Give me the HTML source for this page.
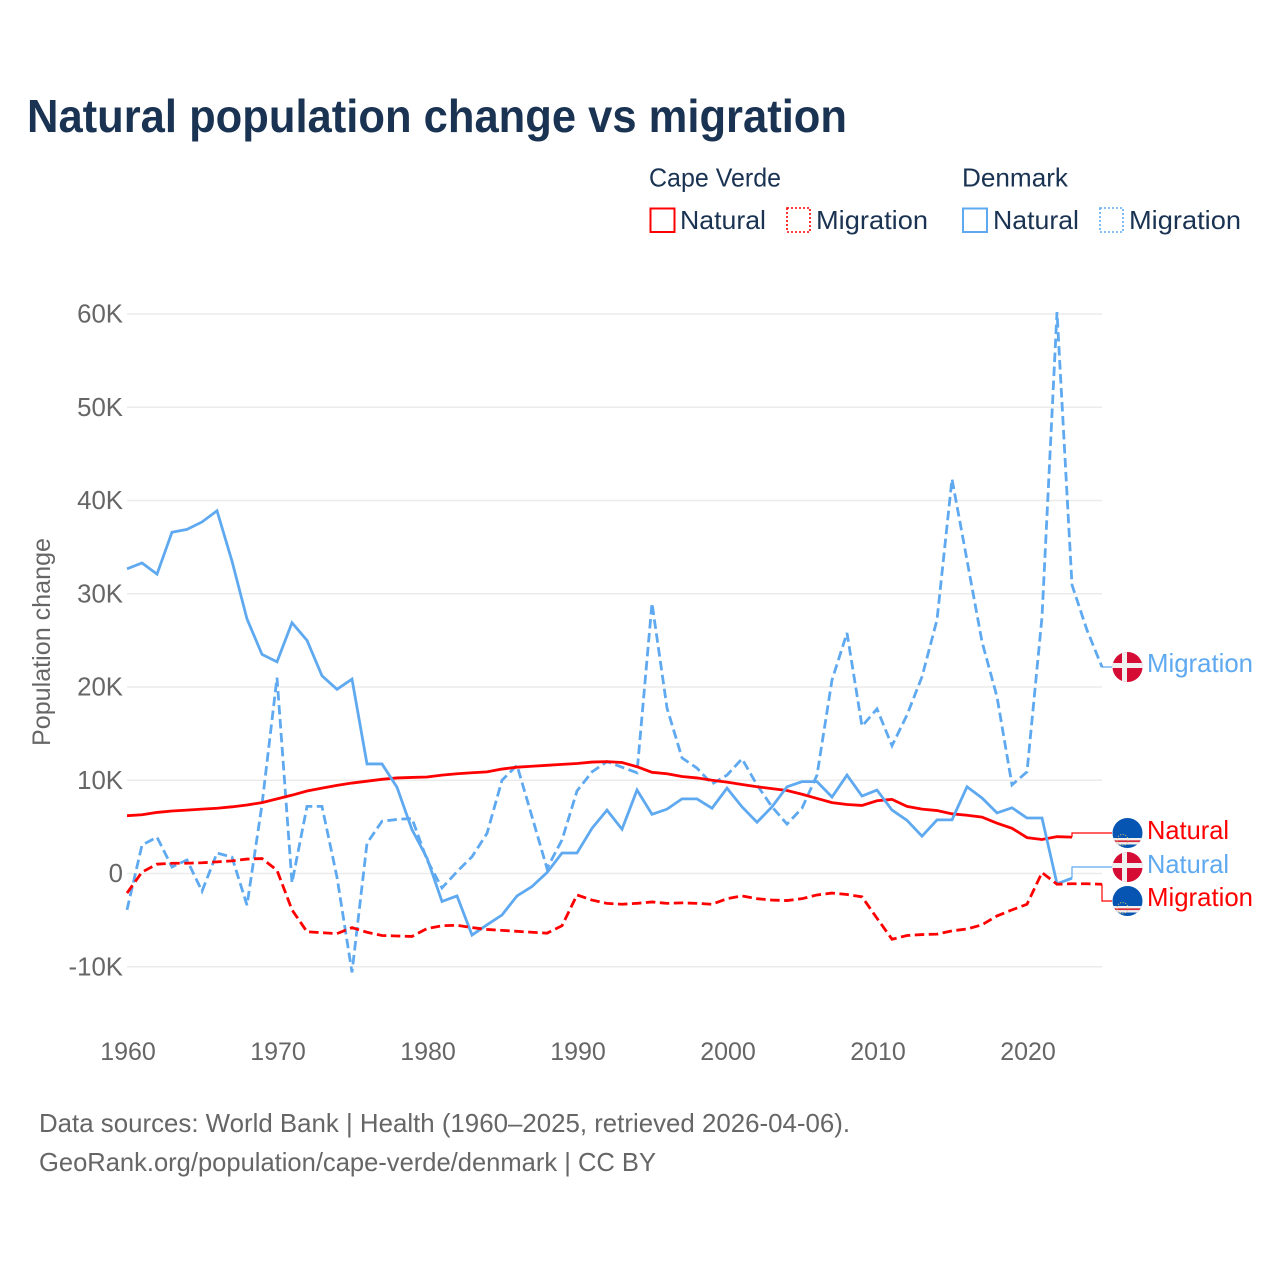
<!DOCTYPE html>
<html lang="en">
<head>
<meta charset="utf-8">
<title>Natural population change vs migration</title>
<style>
html,body{margin:0;padding:0;background:#fff;}
svg{display:block;font-family:"Liberation Sans",sans-serif;}
</style>
</head>
<body>
<svg id="chart" xmlns="http://www.w3.org/2000/svg" width="1280" height="1280" viewBox="0 0 1280 1280">
<defs>
<clipPath id="flag-clip-a"><circle cx="1127.5" cy="667" r="15"/></clipPath>
<clipPath id="flag-clip-b"><circle cx="1127.5" cy="833" r="15"/></clipPath>
<clipPath id="flag-clip-c"><circle cx="1127.5" cy="867" r="15"/></clipPath>
<clipPath id="flag-clip-d"><circle cx="1127.5" cy="901" r="15"/></clipPath>
</defs>
<rect width="1280" height="1280" fill="#fff"/>
<text x="27" y="132" font-size="46" font-weight="700" fill="#1a3352" textLength="820" lengthAdjust="spacingAndGlyphs">Natural population change vs migration</text>

<g font-size="26" fill="#1a3352">
<text x="649" y="186.5" textLength="132" lengthAdjust="spacingAndGlyphs">Cape Verde</text>
<text x="962" y="186.5" textLength="106" lengthAdjust="spacingAndGlyphs">Denmark</text>
<g>
<rect x="650.5" y="208.5" width="24" height="23.5" fill="none" stroke="#ff0000" stroke-width="2"/>
<text x="680" y="229" textLength="86" lengthAdjust="spacingAndGlyphs">Natural</text>
</g>
<g>
<rect x="787" y="208" width="23" height="24" fill="none" stroke="#ff0000" stroke-width="1.6" stroke-dasharray="2,2"/>
<text x="816" y="229" textLength="112" lengthAdjust="spacingAndGlyphs">Migration</text>
</g>
<g>
<rect x="963" y="208.5" width="24" height="23.5" fill="none" stroke="#5ea9f0" stroke-width="2"/>
<text x="993" y="229" textLength="86" lengthAdjust="spacingAndGlyphs">Natural</text>
</g>
<g>
<rect x="1100" y="208" width="23" height="24" fill="none" stroke="#5ea9f0" stroke-width="1.6" stroke-dasharray="2,2"/>
<text x="1129" y="229" textLength="112" lengthAdjust="spacingAndGlyphs">Migration</text>
</g>
</g>

<text transform="translate(50,642) rotate(-90)" text-anchor="middle" font-size="25" fill="#666" textLength="208" lengthAdjust="spacingAndGlyphs">Population change</text>

<g id="grid"></g>
<g id="yticks"></g>
<g id="xticks"></g>
<g id="series"></g>

<g font-size="26">
<g clip-path="url(#flag-clip-a)">
<rect x="1112" y="651" width="31" height="32" fill="#d50c33"/>
<rect x="1112" y="663" width="31" height="5" fill="#f0f0f0"/>
<rect x="1122" y="651" width="5" height="32" fill="#f0f0f0"/>
</g>
<text x="1147" y="672" fill="#5ea9f0" textLength="106" lengthAdjust="spacingAndGlyphs">Migration</text>
<g clip-path="url(#flag-clip-b)">
<rect x="1112" y="817" width="31" height="32" fill="#0755b2"/>
<rect x="1112" y="838" width="31" height="6.5" fill="#f0f0f0"/>
<rect x="1112" y="840.3" width="31" height="1.8" fill="#d92b3c"/>
<circle cx="1122.5" cy="840" r="5.5" fill="none" stroke="#d9c36a" stroke-width="1" stroke-dasharray="1,1.6"/>
</g>
<text x="1147" y="839" fill="#ff0000" textLength="82" lengthAdjust="spacingAndGlyphs">Natural</text>
<g clip-path="url(#flag-clip-c)">
<rect x="1112" y="851" width="31" height="32" fill="#d50c33"/>
<rect x="1112" y="863" width="31" height="5" fill="#f0f0f0"/>
<rect x="1122" y="851" width="5" height="32" fill="#f0f0f0"/>
</g>
<text x="1147" y="873" fill="#5ea9f0" textLength="82" lengthAdjust="spacingAndGlyphs">Natural</text>
<g clip-path="url(#flag-clip-d)">
<rect x="1112" y="885" width="31" height="32" fill="#0755b2"/>
<rect x="1112" y="906" width="31" height="6.5" fill="#f0f0f0"/>
<rect x="1112" y="908.3" width="31" height="1.8" fill="#d92b3c"/>
<circle cx="1122.5" cy="908" r="5.5" fill="none" stroke="#d9c36a" stroke-width="1" stroke-dasharray="1,1.6"/>
</g>
<text x="1147" y="906" fill="#ff0000" textLength="106" lengthAdjust="spacingAndGlyphs">Migration</text>
</g>

<g font-size="26" fill="#666">
<text x="39" y="1132" textLength="811" lengthAdjust="spacingAndGlyphs">Data sources: World Bank | Health (1960–2025, retrieved 2026-04-06).</text>
<text x="39" y="1171" textLength="617" lengthAdjust="spacingAndGlyphs">GeoRank.org/population/cape-verde/denmark | CC BY</text>
</g>
</svg>
<script>
const years = [1960,1961,1962,1963,1964,1965,1966,1967,1968,1969,1970,1971,1972,1973,1974,1975,1976,1977,1978,1979,1980,1981,1982,1983,1984,1985,1986,1987,1988,1989,1990,1991,1992,1993,1994,1995,1996,1997,1998,1999,2000,2001,2002,2003,2004,2005,2006,2007,2008,2009,2010,2011,2012,2013,2014,2015,2016,2017,2018,2019,2020,2021,2022,2023,2024,2025];
const capeVerdeNatural = [6.2,6.3,6.55,6.7,6.8,6.9,7.0,7.15,7.35,7.6,8.0,8.4,8.85,9.15,9.45,9.7,9.9,10.1,10.25,10.3,10.35,10.55,10.7,10.8,10.9,11.2,11.4,11.5,11.6,11.7,11.8,11.95,12.0,11.9,11.45,10.85,10.7,10.4,10.25,10.0,9.8,9.55,9.3,9.1,8.9,8.5,8.05,7.6,7.4,7.3,7.8,7.95,7.2,6.9,6.75,6.4,6.25,6.05,5.4,4.85,3.85,3.65,3.95,3.9];
const capeVerdeMigration = [-2.1,0.15,1.0,1.1,1.1,1.15,1.25,1.35,1.55,1.6,0.35,-3.9,-6.25,-6.35,-6.45,-5.8,-6.3,-6.65,-6.7,-6.75,-5.9,-5.6,-5.55,-5.8,-6.0,-6.1,-6.2,-6.3,-6.4,-5.6,-2.3,-2.85,-3.2,-3.3,-3.2,-3.05,-3.2,-3.15,-3.2,-3.3,-2.7,-2.4,-2.7,-2.85,-2.9,-2.7,-2.3,-2.1,-2.25,-2.5,-4.8,-7.05,-6.65,-6.55,-6.5,-6.15,-5.95,-5.5,-4.55,-3.9,-3.3,0.1,-1.15,-1.1,-1.1,-1.15];
const denmarkNatural = [32.67,33.3,32.1,36.6,36.9,37.7,38.9,33.5,27.3,23.5,22.7,26.9,25.0,21.2,19.75,20.85,11.75,11.75,9.25,4.7,1.66,-3.0,-2.4,-6.6,-5.5,-4.45,-2.4,-1.4,0.1,2.2,2.2,4.85,6.8,4.75,8.95,6.35,6.9,8.0,8.0,7.0,9.15,7.15,5.5,7.15,9.3,9.85,9.85,8.2,10.55,8.3,8.95,6.8,5.7,4.0,5.75,5.75,9.3,8.1,6.5,7.05,5.95,5.95,-1.1,-0.5];
const denmarkMigration = [-3.9,3.05,3.9,0.7,1.45,-1.9,2.2,1.75,-3.4,7.4,21.0,-1.0,7.2,7.2,-0.4,-10.6,3.25,5.6,5.8,5.9,1.45,-1.55,0.2,1.8,4.3,10.0,11.6,6.1,0.55,3.6,8.85,10.9,12.0,11.4,10.8,29.0,17.75,12.4,11.3,9.6,10.55,12.3,9.5,7.15,5.3,7.0,10.55,20.75,25.8,15.8,17.65,13.7,17.0,21.1,27.2,42.3,33.6,24.85,18.95,9.5,10.9,27.5,60.2,30.95,26.1,22.15];
const yTickValues = [-10,0,10,20,30,40,50,60];
const yTickLabels = ["-10K","0","10K","20K","30K","40K","50K","60K"];
const xTickValues = [1960,1970,1980,1990,2000,2010,2020];
const xTickLabels = ["1960","1970","1980","1990","2000","2010","2020"];

const NS = "http://www.w3.org/2000/svg";
function xScale(year){ return 127 + (year - 1960) * (1102 - 127) / 65; }
function yScale(k){ return 873.5 - k * (873.5 - 314) / 60; }

const gridG = document.getElementById("grid");
const yG = document.getElementById("yticks");
const xG = document.getElementById("xticks");
const seriesG = document.getElementById("series");

yTickValues.forEach(function(v, i){
  const line = document.createElementNS(NS, "line");
  line.setAttribute("x1", 127);
  line.setAttribute("x2", 1102);
  line.setAttribute("y1", yScale(v));
  line.setAttribute("y2", yScale(v));
  line.setAttribute("stroke", "#ebebeb");
  line.setAttribute("stroke-width", "1.4");
  
  
  gridG.appendChild(line);
  const t = document.createElementNS(NS, "text");
  t.setAttribute("x", 123);
  t.setAttribute("y", yScale(v) + 8.5);
  t.setAttribute("text-anchor", "end");
  t.setAttribute("font-size", "25.8");
  t.setAttribute("fill", "#666");
  t.textContent = yTickLabels[i];
  
  
  yG.appendChild(t);
});

xTickValues.forEach(function(v, i){
  const t = document.createElementNS(NS, "text");
  t.setAttribute("x", xScale(v) + 1);
  t.setAttribute("y", 1060);
  t.setAttribute("text-anchor", "middle");
  t.setAttribute("font-size", "25");
  t.setAttribute("fill", "#666");
  t.textContent = xTickLabels[i];
  
  
  xG.appendChild(t);
});

function drawSeries(values, color, dashed, name, labelY){
  const pts = values.map(function(v, i){ return xScale(years[i]).toFixed(2) + "," + yScale(v).toFixed(2); });
  const p = document.createElementNS(NS, "polyline");
  p.setAttribute("points", pts.join(" "));
  p.setAttribute("fill", "none");
  p.setAttribute("stroke", color);
  p.setAttribute("stroke-width", "2.8");
  p.setAttribute("stroke-linejoin", "miter");
  if (dashed) p.setAttribute("stroke-dasharray", "9.5,4.5");
  
  
  seriesG.appendChild(p);
  const lastX = xScale(years[values.length - 1]);
  const lastY = yScale(values[values.length - 1]);
  const lead = document.createElementNS(NS, "polyline");
  lead.setAttribute("points", lastX + "," + lastY + " " + lastX + "," + labelY + " 1112," + labelY);
  lead.setAttribute("fill", "none");
  lead.setAttribute("stroke", color);
  lead.setAttribute("stroke-width", "1.2");
  
  
  seriesG.appendChild(lead);
}
drawSeries(denmarkMigration, "#5ea9f0", true, "line-denmark-migration", 667);
drawSeries(capeVerdeNatural, "#ff0000", false, "line-cape-verde-natural", 833);
drawSeries(denmarkNatural, "#5ea9f0", false, "line-denmark-natural", 867);
drawSeries(capeVerdeMigration, "#ff0000", true, "line-cape-verde-migration", 901);
</script>
</body>
</html>
